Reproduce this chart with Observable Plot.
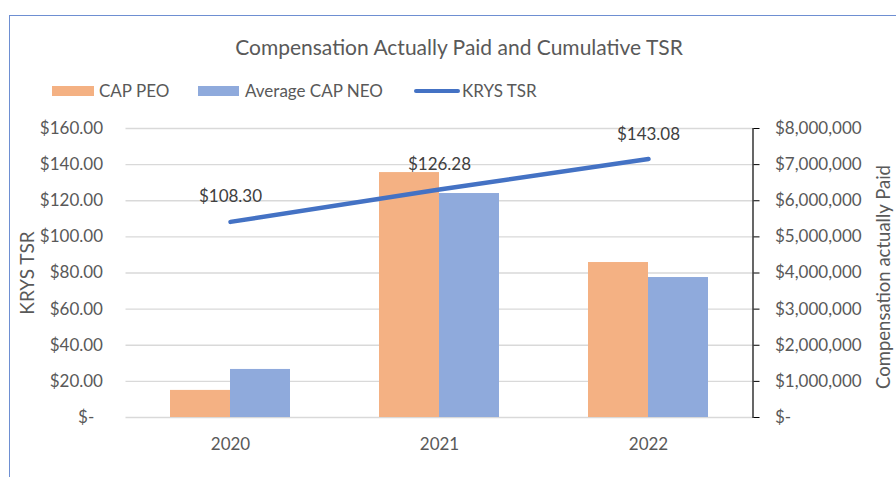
<!DOCTYPE html>
<html>
<head>
<meta charset="utf-8">
<script src="https://cdn.jsdelivr.net/npm/d3@7"></script>
<script src="https://cdn.jsdelivr.net/npm/@observablehq/plot@0.6"></script>
<style>
  html, body { margin: 0; padding: 0; background: #fff; }
  #wrap { position: relative; width: 896px; height: 477px; overflow: hidden; font-family: Lato, "Open Sans", sans-serif; color: #595959; }
  #border { position: absolute; left: 9px; top: 15px; width: 900px; height: 480px; border-left: 1.5px solid #6E8FD2; border-top: 1.5px solid #6E8FD2; box-sizing: border-box; }
  #title { position: absolute; top: 34px; left: 0; width: 918px; text-align: center; font-size: 21px; line-height: 26px; color: #595959; white-space: nowrap; }
  .lg { position: absolute; font-size: 17px; line-height: 20px; top: 81px; white-space: nowrap; color: #595959; }
  .sw { position: absolute; }
  #chart { position: absolute; left: 0; top: 0; }
</style>
</head>
<body>
<div id="wrap">
  <div id="border"></div>
  <div id="chart"></div>
  <div id="title"></div>
  <div id="legend"></div>
</div>
<script>
const chartTitle = "Compensation Actually Paid and Cumulative TSR";
const years = ["2020", "2021", "2022"];
const seriesNames = ["CAP PEO", "Average CAP NEO", "KRYS TSR"];
const seriesColors = ["#F4B183", "#8FAADC", "#4472C4"];
const capPeo = [750000, 6780000, 4290000];
const capNeo = [1330000, 6200000, 3875000];
const tsr = [108.30, 126.28, 143.08];
const tsrTicks = [0, 20, 40, 60, 80, 100, 120, 140, 160];
const capTicks = [0, 1000000, 2000000, 3000000, 4000000, 5000000, 6000000, 7000000, 8000000];
const leftTitle = "KRYS TSR";
const rightTitle = "Compensation actually Paid";

const TSR_MAX = tsrTicks[tsrTicks.length - 1];
const CAP_MAX = capTicks[capTicks.length - 1];
const capToTsr = v => v * TSR_MAX / CAP_MAX;

const peoData = years.map((y, i) => ({year: y, v: capToTsr(capPeo[i])}));
const neoData = years.map((y, i) => ({year: y, v: capToTsr(capNeo[i])}));
const tsrData = years.map((y, i) => ({year: y, v: tsr[i]}));

document.getElementById("title").textContent = chartTitle;

// legend
const legend = document.getElementById("legend");
const legendItems = [
  {sx: 52, sw: 42, tx: 99, kind: "rect"},
  {sx: 198, sw: 41, tx: 245, kind: "rect"},
  {sx: 414, sw: 46, tx: 462, kind: "line"}
];
legendItems.forEach((it, i) => {
  const s = document.createElement("div");
  s.className = "sw";
  s.style.left = it.sx + "px";
  s.style.width = it.sw + "px";
  if (it.kind === "rect") {
    s.style.top = "86px"; s.style.height = "10px";
  } else {
    s.style.top = "89px"; s.style.height = "4px"; s.style.borderRadius = "2px";
  }
  s.style.background = seriesColors[i];
  legend.appendChild(s);
  const t = document.createElement("div");
  t.className = "lg";
  t.style.left = it.tx + "px";
  t.textContent = seriesNames[i];
  legend.appendChild(t);
});

const fmtTsr = d => d === 0 ? "$-\u00a0\u00a0" : "$" + d.toFixed(2);
const fmtCap = d => {
  const v = Math.round(d * CAP_MAX / TSR_MAX);
  return v === 0 ? "$-" : "$" + d3.format(",")(v);
};

const plot = Plot.plot({
  width: 896,
  height: 477,
  marginLeft: 125.5,
  marginRight: 143.5,
  marginTop: 128,
  marginBottom: 60,
  style: {fontFamily: "Lato, 'Open Sans', sans-serif", background: "transparent"},
  x: {type: "band", domain: years, paddingInner: 0.713, paddingOuter: 0.3565},
  y: {domain: [0, TSR_MAX]},
  marks: [
    Plot.ruleY(tsrTicks, {stroke: "#D9D9D9", strokeWidth: 1.3}),
    Plot.barY(peoData, {x: "year", y: "v", fill: seriesColors[0], dx: -30}),
    Plot.barY(neoData, {x: "year", y: "v", fill: seriesColors[1], dx: 30}),
    Plot.line(tsrData, {x: "year", y: "v", stroke: seriesColors[2], strokeWidth: 4.5, strokeLinecap: "round"}),
    Plot.text(tsrData, {x: "year", y: "v", text: d => "$" + d.v.toFixed(2), dy: -25, fontSize: 17, fill: "#404040"}),
    Plot.axisY(tsrTicks, {anchor: "left", tickSize: 0, tickPadding: 23, tickFormat: fmtTsr, fontSize: 17, fill: "#595959", label: null}),
    Plot.axisY(capTicks.map(capToTsr), {anchor: "right", tickSize: 6, tickPadding: 16, tickFormat: fmtCap, fontSize: 17, fill: "#595959", stroke: "#000", label: null}),
    Plot.frame({anchor: "right", stroke: "#000", strokeWidth: 1.2}),
    Plot.axisX({tickSize: 0, tickPadding: 20, fontSize: 17, fill: "#595959", label: null}),
    Plot.text([leftTitle], {text: d => d, frameAnchor: "left", textAnchor: "middle", rotate: -90, dx: -98, fontSize: 19, fill: "#595959"}),
    Plot.text([rightTitle], {text: d => d, frameAnchor: "right", textAnchor: "middle", rotate: -90, dx: 131, dy: 4, fontSize: 18.5, fill: "#595959"})
  ]
});
document.getElementById("chart").appendChild(plot);
</script>
</body>
</html>
